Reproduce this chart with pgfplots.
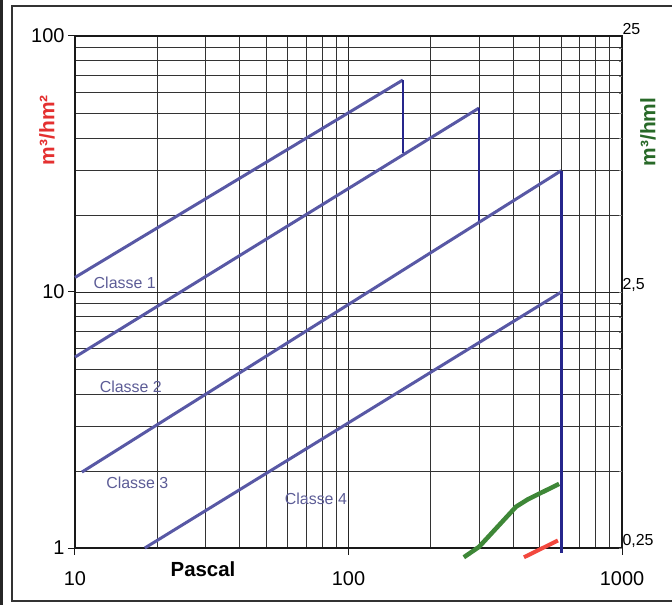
\documentclass[border=0pt]{standalone}
\usepackage{fontspec}
\setmainfont{Liberation Sans}
\usepackage{pgfplots}
\pgfplotsset{compat=1.18}

\definecolor{classblue}{RGB}{88,88,165}
\definecolor{dropblue}{RGB}{38,38,140}
\definecolor{labblue}{RGB}{92,92,150}
\definecolor{grn}{RGB}{62,135,55}
\definecolor{rd}{RGB}{242,72,62}
\definecolor{lblred}{RGB}{228,48,48}
\definecolor{lblgreen}{RGB}{40,105,40}

\begin{document}
\begin{tikzpicture}
\begin{axis}[
  scale only axis, width=547bp, height=512bp,
  xmode=log, ymode=log,
  xmin=10, xmax=1000, ymin=1, ymax=100,
  xtick={10,100,1000}, xticklabels={10,100,1000},
  ytick={1,10,100}, yticklabels={1,10,100},
  minor xtick={20,30,40,50,60,70,80,90,200,300,400,500,600,700,800,900},
  minor ytick={2,3,4,5,6,7,8,9,20,30,40,50,60,70,80,90},
  grid=both,
  major grid style={black!85, line width=0.9bp},
  minor grid style={black!80, line width=0.7bp},
  axis line style={black!90, line width=1.1bp},
  tick pos=left, tick align=outside,
  major tick length=7bp, minor tick length=0pt,
  tick style={black!90, line width=1bp},
  /pgf/number format/assume math mode=true,
  ticklabel style={font=\fontsize{20}{20}\selectfont},
  xticklabel style={yshift=-13bp},
  clip=false,
  xlabel={Pascal},
  xlabel style={at={(axis description cs:0.234,-0.041)}, anchor=center,
    font=\fontsize{20.5}{20.5}\selectfont\bfseries},
  ylabel={m³/hm²},
  ylabel style={at={(axis description cs:-0.0512,0.816)}, anchor=center,
    font=\fontsize{21}{21}\selectfont\bfseries, text=lblred},
]
% Classe 1
\addplot[classblue, line width=3bp] coordinates {(10,11.4) (158,67.3)};
\addplot[dropblue, line width=2.6bp] coordinates {(158,67.3) (158,34.9)};
% Classe 2
\addplot[classblue, line width=3bp] coordinates {(10,5.57) (300,52.3)};
\addplot[dropblue, line width=2.6bp] coordinates {(300,52.3) (300,18.8)};
% Classe 3
\addplot[classblue, line width=3bp] coordinates {(10.6,1.98) (600,29.8)};
\addplot[dropblue, line width=2.6bp] coordinates {(600,29.8) (600,0.955)};
% Classe 4
\addplot[classblue, line width=3bp] coordinates {(18,1) (600,10)};
% green and red curves
\addplot[grn, line width=4.5bp, line join=round] coordinates {
  (264,0.92) (300,1.01) (410,1.45) (453,1.55) (589,1.78)};
\addplot[rd, line width=4bp] coordinates {(438,0.92) (583,1.07)};

\node[text=labblue, font=\fontsize{16}{16}\selectfont] at (axis cs:15.2,10.9) {Classe 1};
\node[text=labblue, font=\fontsize{16}{16}\selectfont] at (axis cs:16.0,4.26) {Classe 2};
\node[text=labblue, font=\fontsize{16}{16}\selectfont] at (axis cs:16.9,1.79) {Classe 3};
\node[text=labblue, font=\fontsize{16}{16}\selectfont] at (axis cs:76,1.55) {Classe 4};

% frame of the scanned figure
\draw[black!80, line width=1.2bp] (rel axis cs:1.2,1.0586) -- (rel axis cs:-0.1152,1.0586)
  -- (rel axis cs:-0.1152,-0.1035) -- (rel axis cs:1.2,-0.1035);
\draw[black!85, line width=2.6bp] (rel axis cs:-0.1347,-0.12) -- (rel axis cs:-0.1347,1.08);
\coordinate (bbsw) at (rel axis cs:-0.1371,-0.1094);
\coordinate (bbne) at (rel axis cs:1.0914,1.0703);
\end{axis}

\begin{axis}[
  scale only axis, width=547bp, height=512bp,
  xmode=log, ymode=log,
  xmin=10, xmax=1000, ymin=0.25, ymax=25,
  axis x line=none, axis y line*=right,
  axis line style={draw=none},
  ytick={0.25,2.5,25}, yticklabels={{0,25},{2,5},{25}},
  minor ytick={}, major tick length=0pt,
  yticklabel style={font=\fontsize{16}{16}\selectfont, anchor=west, xshift=-3bp, yshift=7bp},
  ylabel={m³/hml},
  ylabel style={at={(axis description cs:1.0475,0.8125)}, anchor=center,
    font=\fontsize{21}{21}\selectfont\bfseries, text=lblgreen},
]
\end{axis}
\pgfresetboundingbox
\path[use as bounding box] (bbsw) rectangle (bbne);
\end{tikzpicture}
\end{document}
